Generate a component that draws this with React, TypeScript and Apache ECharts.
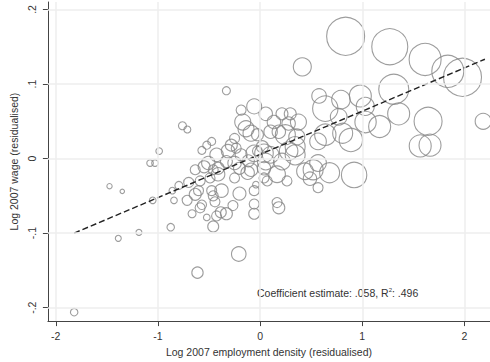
import React, { useEffect, useRef } from "react";
import * as echarts from "echarts";

// Log 2007 employment density (residualised)
const densityX = [
  -1.820, -1.474, -1.349, -1.388, -1.186, -1.051, -0.875, -1.077, -1.029, -0.988,
  -0.760, -0.712, -0.330, -0.613, -0.209, 0.183, -0.859, -0.795, -0.843, -0.714,
  -0.666, -0.699, -0.635, -0.603, -0.570, -0.522, -0.587, -0.635, -0.587, -0.474,
  -0.442, -0.459, -0.426, -0.385, -0.330, -0.266, -0.202, -0.490, -0.411, -0.507,
  -0.250, -0.122, -0.058, -0.459, -0.378, -0.058, -0.041, 0.038, 0.070, 0.166,
  0.263, -0.058, 0.166, -0.548, -0.459, -0.411, -0.426, -0.570, -0.522, -0.474,
  -0.314, -0.282, -0.250, -0.330, -0.250, -0.186, -0.202, -0.089, -0.115, -0.026,
  0.022, 0.038, 0.055, 0.103, -0.234, -0.186, -0.058, -0.170, -0.138, -0.089,
  -0.026, 0.055, 0.135, 0.183, 0.214, 0.295, 0.279, 0.375, 0.359, 0.247,
  0.103, 0.577, 0.638, 0.791, 0.769, 0.981, 1.029, 1.032, 1.170, 0.808,
  0.888, 0.638, 0.279, 0.343, 0.567, 0.038, -0.058, 0.214, 0.439, 0.519,
  0.567, 0.680, 0.920, 0.567, 0.488, 0.343, 0.413, 0.837, 1.269, 1.615,
  1.837, 1.981, 1.308, 1.356, 1.644, 1.567, 1.663, 2.183,
];

// Log 2007 wage (residualised)
const wageY = [
  -0.206, -0.037, -0.044, -0.107, -0.099, -0.056, -0.092, -0.006, -0.006, 0.010,
  0.044, 0.039, 0.091, -0.153, -0.128, -0.066, -0.043, -0.036, -0.056, -0.056,
  -0.074, -0.032, -0.048, -0.043, -0.062, -0.079, -0.030, -0.015, -0.066, -0.043,
  -0.058, -0.091, -0.077, -0.072, -0.074, -0.063, -0.047, -0.026, -0.021, -0.006,
  -0.026, -0.019, -0.074, -0.050, -0.043, -0.043, -0.035, -0.026, -0.030, -0.021,
  -0.030, -0.061, -0.059, -0.011, -0.015, -0.013, 0.005, 0.011, 0.018, 0.023,
  0.010, 0.018, 0.027, -0.004, -0.006, 0.005, -0.013, -0.015, -0.003, 0.010,
  0.016, -0.013, -0.004, 0.005, 0.014, 0.065, 0.070, 0.049, 0.040, 0.034,
  0.032, 0.060, 0.049, 0.036, 0.060, 0.060, 0.047, 0.049, 0.029, 0.032,
  0.036, 0.084, 0.067, 0.079, 0.056, 0.084, 0.070, 0.049, 0.043, 0.034,
  0.025, 0.032, 0.010, 0.016, 0.023, 0.007, 0.007, -0.004, -0.017, -0.015,
  -0.006, -0.019, -0.022, -0.039, -0.027, 0.005, 0.123, 0.164, 0.150, 0.133,
  0.117, 0.109, 0.093, 0.060, 0.050, 0.017, 0.018, 0.050,
];

// Employment weight (bubble size)
const employment = [
  14, 7, 5, 9, 9, 11, 14, 11, 11, 11,
  16, 12, 16, 32, 53, 36, 11, 16, 11, 25,
  16, 25, 36, 25, 22, 11, 25, 25, 25, 25,
  25, 30, 25, 30, 36, 25, 42, 25, 45, 45,
  25, 45, 30, 25, 45, 25, 11, 25, 25, 69,
  25, 25, 25, 36, 25, 36, 45, 16, 16, 16,
  45, 36, 25, 36, 45, 36, 36, 45, 36, 25,
  36, 45, 69, 69, 25, 25, 56, 64, 64, 64,
  36, 45, 45, 45, 36, 36, 45, 64, 64, 100,
  45, 53, 161, 86, 69, 121, 81, 114, 121, 100,
  137, 114, 86, 100, 69, 86, 69, 69, 69, 100,
  69, 100, 161, 25, 45, 100, 81, 361, 324, 256,
  256, 361, 225, 121, 196, 121, 121, 64,
];

// Fitted line
const coefficient = 0.058;
const intercept = 0.0056;
const fitRange = [-1.82, 2.2];
const rSquared = ".496";

const xTicks = [-2, -1, 0, 1, 2];
const yTicks = [-0.2, -0.1, 0, 0.1, 0.2];

const FONT = "'Liberation Sans', Arial, sans-serif";
const TEXT = "#333333";
const FS = 10.5;

const fmt = (v: number) => {
  if (Math.abs(v) < 1e-9) return "0";
  const s = String(Math.round(v * 1000) / 1000);
  return s.replace("0.", ".");
};

export default function App() {
  const ref = useRef<HTMLDivElement>(null);
  useEffect(() => {
    if (!ref.current) return;
    const chart = echarts.init(ref.current, null, { renderer: "svg" });
    const points = densityX.map((x, i) => [x, wageY[i], employment[i]]);
    const fit = fitRange.map((x) => [x, intercept + coefficient * x]);
    const gridLines = [
      ...xTicks.map((v) => ({ xAxis: v })),
      ...yTicks.map((v) => ({ yAxis: v })),
    ];
    chart.setOption({
      animation: false,
      backgroundColor: "#ffffff",
      grid: { left: 40, right: 0, top: 2, bottom: 37, containLabel: false },
      xAxis: {
        type: "value",
        min: -2.077,
        max: 2.25,
        name: "Log 2007 employment density (residualised)",
        nameLocation: "middle",
        nameGap: 20,
        nameTextStyle: { color: TEXT, fontSize: FS, fontFamily: FONT },
        axisLine: { show: true, onZero: false, lineStyle: { color: "#444", width: 1 } },
        axisTick: { show: true, length: 5, customValues: xTicks, lineStyle: { color: "#444" } },
        axisLabel: {
          customValues: xTicks,
          formatter: fmt,
          color: TEXT,
          fontSize: FS,
          fontFamily: FONT,
          margin: 9,
        },
        splitLine: { show: false },
      },
      yAxis: {
        type: "value",
        min: -0.218,
        max: 0.21,
        name: "Log 2007 wage (residualised)",
        nameLocation: "middle",
        nameGap: 23,
        nameTextStyle: { color: TEXT, fontSize: FS, fontFamily: FONT },
        axisLine: { show: true, onZero: false, lineStyle: { color: "#444", width: 1 } },
        axisTick: { show: true, length: 5, customValues: yTicks, lineStyle: { color: "#444" } },
        axisLabel: {
          customValues: yTicks,
          formatter: fmt,
          rotate: 90,
          color: TEXT,
          fontSize: FS,
          fontFamily: FONT,
          margin: 10,
        },
        splitLine: { show: false },
      },
      graphic: [
        {
          type: "text",
          left: 257,
          top: 287,
          silent: true,
          style: {
            text: "{a|Coefficient estimate: .058, R}{s|2}{a|: " + rSquared + "}",
            rich: {
              a: { fontSize: FS, fontFamily: FONT, fill: TEXT },
              s: { fontSize: 6, fontFamily: FONT, fill: TEXT, padding: [0, 0, 6, 0] },
            },
          },
        },
      ],
      series: [
        {
          type: "line",
          data: [],
          silent: true,
          z: 1,
          markLine: {
            silent: true,
            symbol: "none",
            label: { show: false },
            lineStyle: { color: "#eeeeee", width: 1.5, type: "solid" },
            data: gridLines,
          },
        },
        {
          type: "scatter",
          data: points,
          z: 3,
          symbol: "circle",
          symbolSize: (v: number[]) => 2 * Math.sqrt(v[2]),
          itemStyle: { color: "rgba(0,0,0,0)", borderColor: "#858585", borderWidth: 1.1 },
        },
        {
          type: "line",
          data: fit,
          z: 4,
          symbol: "none",
          lineStyle: { color: "#222", width: 1.4, type: [6, 3] },
        },
      ],
    });
    return () => chart.dispose();
  }, []);
  return (
    <div
      ref={ref}
      style={{ position: "fixed", left: 0, top: 0, width: 490, height: 362, background: "#fff" }}
    />
  );
}
